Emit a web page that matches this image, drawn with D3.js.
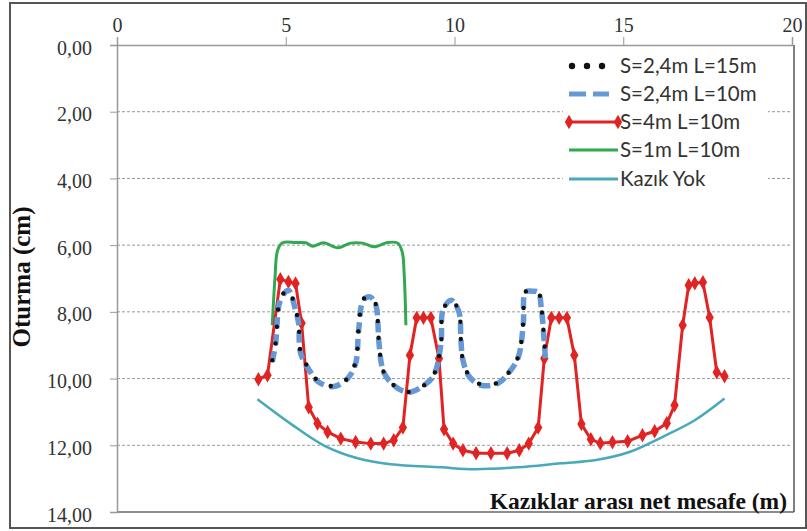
<!DOCTYPE html>
<html><head><meta charset="utf-8">
<script src="https://cdn.jsdelivr.net/npm/d3@7"></script>
<style>body{margin:0;background:#fff}svg{display:block}</style>
</head><body>
<script>
// ---- data ----
const xTicks = [0, 5, 10, 15, 20];
const yTicks = [0, 2, 4, 6, 8, 10, 12, 14];
const yTickLabels = ["0,00","2,00","4,00","6,00","8,00","10,00","12,00","14,00"];
const seriesNames = ["S=2,4m L=15m","S=2,4m L=10m","S=4m L=10m","S=1m L=10m","Kazık Yok"];

const blackX = [4.6,4.7,4.84,5.08,5.29,5.38,5.44,5.68,5.97,6.42,6.83,7.07,7.16,7.3,7.5,7.67,7.73,7.76,7.9,8.2,8.62,9.1,9.39,9.6,9.66,9.9,10.13,10.19,10.25,10.43,10.79,11.29,11.62,11.89,12.04,12.1,12.3,12.48,12.57,12.66,12.7];
const blackY = [9.45,8.94,7.62,7.33,7.95,8.3,9.2,9.7,10.08,10.22,10.0,9.5,8.5,7.62,7.52,7.78,8.3,8.9,9.8,10.2,10.4,10.2,9.88,8.94,7.95,7.63,8.0,8.85,9.45,9.9,10.18,10.12,9.8,9.34,8.3,7.4,7.37,7.4,7.84,8.9,9.45];

const blueX = [4.6,4.7,4.84,5.08,5.29,5.38,5.44,5.68,5.97,6.42,6.83,7.07,7.16,7.3,7.5,7.67,7.73,7.76,7.9,8.2,8.62,9.1,9.39,9.6,9.66,9.9,10.13,10.19,10.25,10.43,10.79,11.29,11.62,11.89,12.04,12.1,12.3,12.48,12.57,12.66,12.7];
const blueY = [9.5,8.94,7.65,7.35,7.95,8.34,9.24,9.72,10.1,10.24,10.0,9.55,8.55,7.65,7.55,7.8,8.34,8.9,9.8,10.2,10.41,10.2,9.9,8.94,7.95,7.65,8.0,8.85,9.45,9.93,10.2,10.14,9.81,9.36,8.34,7.41,7.38,7.41,7.86,8.91,9.5];

const redX = [4.19,4.46,4.84,5.08,5.29,5.47,5.68,5.94,6.24,6.63,7.07,7.52,7.9,8.2,8.47,8.68,8.88,9.08,9.3,9.54,9.69,9.96,10.25,10.64,11.08,11.56,11.92,12.2,12.48,12.66,12.87,13.1,13.33,13.55,13.76,14.04,14.32,14.68,15.13,15.57,15.93,16.29,16.52,16.76,16.94,17.12,17.36,17.56,17.77,18.0];
const redY = [10.02,9.9,7.02,7.1,7.15,8.34,10.86,11.35,11.6,11.8,11.9,11.95,11.95,11.85,11.47,9.3,8.18,8.18,8.18,9.4,11.52,11.95,12.15,12.24,12.24,12.24,12.15,11.95,11.47,9.4,8.18,8.18,8.18,9.3,11.36,11.82,11.94,11.91,11.88,11.7,11.58,11.34,10.8,8.4,7.2,7.14,7.11,8.17,9.81,9.93];

const greenX = [4.6,4.68,4.76,4.9,5.3,5.6,5.8,6.12,6.54,6.92,7.28,7.61,8.02,8.32,8.45,8.51,8.56];
const greenY = [8.4,7.0,6.15,5.93,5.92,5.93,6.03,5.93,6.08,5.94,5.94,6.05,5.92,5.94,6.2,6.9,8.4];

const tealX = [4.16,5.14,6.12,7.13,8.11,9.6,10.58,11.89,13.16,14.15,15.16,16.14,17.12,18.0];
const tealY = [10.62,11.35,12.0,12.39,12.57,12.66,12.72,12.66,12.54,12.45,12.21,11.76,11.25,10.6];

// ---- layout ----
const W = 807, H = 531;
const L = 117, R = 792, T = 45, B = 512;
const svg = d3.select("body").append("svg").attr("width", W).attr("height", H);

svg.append("rect").attr("x", 10).attr("y", 3).attr("width", 796).attr("height", 525)
  .attr("fill", "#fff").attr("stroke", "#555").attr("stroke-width", 2);

const x = d3.scaleLinear().domain([0, 20]).range([L, R]);
const y = d3.scaleLinear().domain([0, 14]).range([T, B]);

// gridlines
svg.append("g").selectAll("line").data(yTicks.filter(v => v > 0 && v < 14)).join("line")
  .attr("x1", L).attr("x2", R).attr("y1", d => y(d)).attr("y2", d => y(d))
  .attr("stroke", "#999").attr("stroke-width", 1).attr("stroke-dasharray", "3,2");

// plot border bottom/right
svg.append("line").attr("x1", L).attr("x2", R + 2).attr("y1", B).attr("y2", B).attr("stroke", "#666").attr("stroke-width", 1.5);
svg.append("line").attr("x1", R + 2).attr("x2", R + 2).attr("y1", T).attr("y2", B).attr("stroke", "#555").attr("stroke-width", 1.5);

// axes
const xAxis = d3.axisTop(x).tickValues(xTicks).tickSize(8).tickFormat(d3.format("d"));
const gx = svg.append("g").attr("transform", `translate(0,${T})`).call(xAxis);
gx.select(".domain").attr("stroke", "#999").attr("stroke-width", 1.5);
gx.selectAll(".tick line").attr("stroke", "#999");
gx.selectAll("text").attr("font-family", "Liberation Serif, Times New Roman, serif")
  .attr("font-size", 20).attr("fill", "#333").attr("y", -13);

const yAxis = d3.axisLeft(y).tickValues(yTicks).tickSize(7).tickFormat((d, i) => yTickLabels[i]);
const gy = svg.append("g").attr("transform", `translate(${L},0)`).call(yAxis);
gy.select(".domain").attr("stroke", "#999").attr("stroke-width", 1.5);
gy.selectAll(".tick line").attr("stroke", "#999");
gy.selectAll("text").attr("font-family", "Liberation Serif, Times New Roman, serif")
  .attr("font-size", 20).attr("fill", "#333").attr("x", -25).attr("dy", "0.45em");

// titles
svg.append("text").attr("transform", "translate(30,277) rotate(-90)")
  .attr("text-anchor", "middle").attr("font-family", "Liberation Serif, serif")
  .attr("font-weight", "bold").attr("font-size", 25).attr("fill", "#111").text("Oturma (cm)");
svg.append("text").attr("x", 787).attr("y", 509).attr("text-anchor", "end")
  .attr("font-family", "Liberation Serif, serif").attr("font-weight", "bold")
  .attr("font-size", 23.5).attr("fill", "#111").text("Kazıklar arası net mesafe (m)");

const pts = (xs, ys) => xs.map((v, i) => [v, ys[i]]);
const smooth = d3.line().x(d => x(d[0])).y(d => y(d[1])).curve(d3.curveCatmullRom.alpha(0.5));
const straight = d3.line().x(d => x(d[0])).y(d => y(d[1]));

const cTeal = "#47a9b9", cGreen = "#33a853", cRed = "#e02424", cBlue = "#6598d4";

// teal
svg.append("path").attr("d", smooth(pts(tealX, tealY))).attr("fill", "none")
  .attr("stroke", cTeal).attr("stroke-width", 2.5);
// green
svg.append("path").attr("d", smooth(pts(greenX, greenY))).attr("fill", "none")
  .attr("stroke", cGreen).attr("stroke-width", 3);
// red
svg.append("path").attr("d", straight(pts(redX, redY))).attr("fill", "none")
  .attr("stroke", cRed).attr("stroke-width", 3);
const diamond = d3.symbol().type(d3.symbolDiamond).size(60);
svg.append("g").selectAll("path").data(pts(redX, redY)).join("path")
  .attr("d", diamond).attr("transform", d => `translate(${x(d[0])},${y(d[1])})`)
  .attr("fill", cRed);
// blue dashed
svg.append("path").attr("d", smooth(pts(blueX, blueY))).attr("fill", "none")
  .attr("stroke", cBlue).attr("stroke-width", 5.5).attr("stroke-dasharray", "11,6");
// black dots
svg.append("path").attr("d", smooth(pts(blackX, blackY))).attr("fill", "none")
  .attr("stroke", "#111").attr("stroke-width", 4.5).attr("stroke-linecap", "round")
  .attr("stroke-dasharray", "0,17");

// legend
const lg = svg.append("g");
lg.append("rect").attr("x", 563).attr("y", 55).attr("width", 205).attr("height", 137).attr("fill", "#fff");
const rows = [66, 94, 122, 150, 179];
const lx1 = 569, lx2 = 618;
[572, 587, 602].forEach(cx => lg.append("circle").attr("cx", cx).attr("cy", rows[0]).attr("r", 3.2).attr("fill", "#111"));
lg.append("line").attr("x1", 569).attr("x2", 609).attr("y1", rows[1]).attr("y2", rows[1])
  .attr("stroke", cBlue).attr("stroke-width", 5).attr("stroke-dasharray", "17,7");
lg.append("line").attr("x1", lx1).attr("x2", lx2).attr("y1", rows[2]).attr("y2", rows[2]).attr("stroke", cRed).attr("stroke-width", 3);
[lx1, lx2].forEach(cx => lg.append("path").attr("d", diamond).attr("transform", `translate(${cx},${rows[2]})`).attr("fill", cRed));
lg.append("line").attr("x1", lx1).attr("x2", lx2).attr("y1", rows[3]).attr("y2", rows[3]).attr("stroke", cGreen).attr("stroke-width", 3);
lg.append("line").attr("x1", lx1).attr("x2", lx2).attr("y1", rows[4]).attr("y2", rows[4]).attr("stroke", cTeal).attr("stroke-width", 3);
lg.selectAll("text.lab").data(seriesNames).join("text").attr("class", "lab")
  .attr("x", 620).attr("y", (d, i) => rows[i]).attr("dy", "0.36em")
  .attr("font-family", "Lato, Carlito, sans-serif").attr("font-size", 20.5).attr("fill", "#333")
  .text(d => d);
</script>
</body></html>
